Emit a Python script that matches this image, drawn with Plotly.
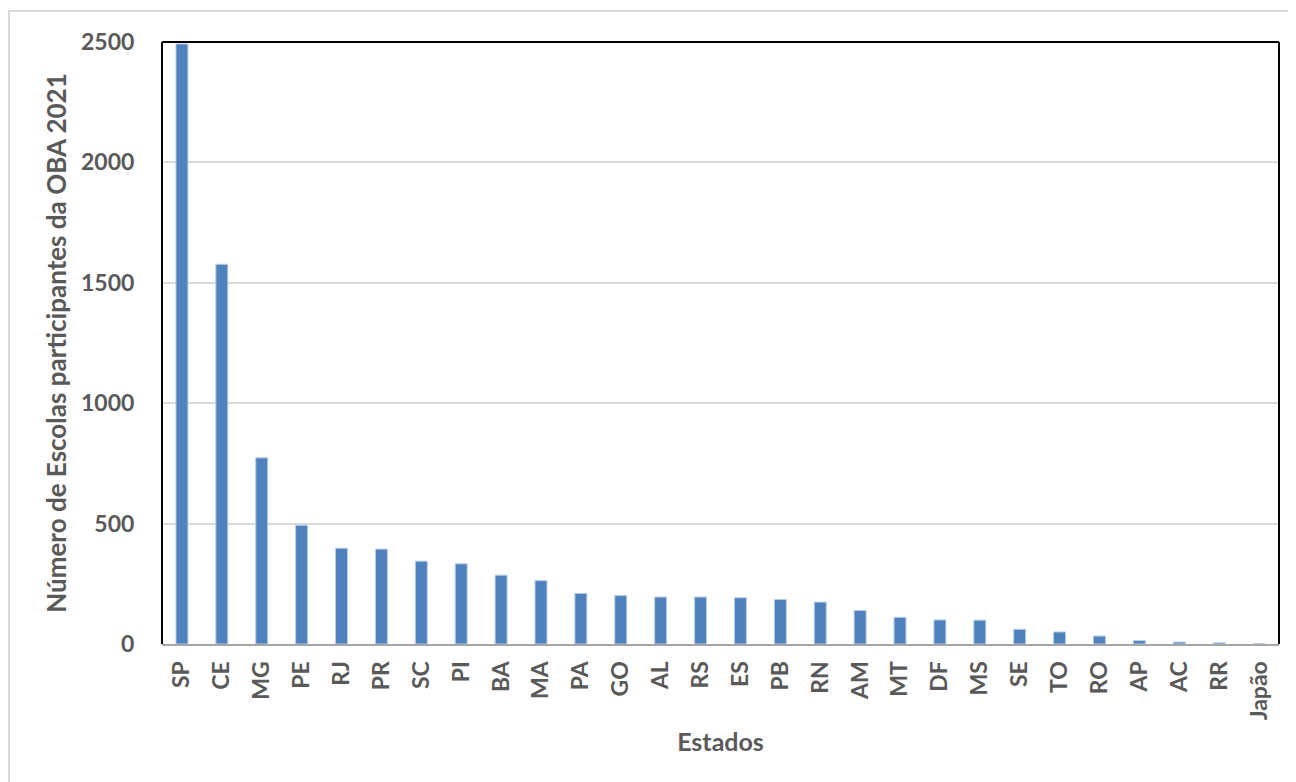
import plotly.graph_objects as go

estados = ["SP", "CE", "MG", "PE", "RJ", "PR", "SC", "PI", "BA", "MA", "PA", "GO", "AL", "RS",
           "ES", "PB", "RN", "AM", "MT", "DF", "MS", "SE", "TO", "RO", "AP", "AC", "RR", "Japão"]
escolas = [2492, 1577, 773, 493, 398, 394, 344, 333, 286, 263, 210, 201, 195, 195,
           192, 185, 174, 139, 111, 100, 99, 61, 50, 33, 14, 8, 5, 1]
y_ticks = [0, 500, 1000, 1500, 2000, 2500]

font_fam = "Lato, Open Sans, sans-serif"
grey = "#595959"

fig = go.Figure()
fig.add_trace(go.Bar(
    x=estados, y=escolas,
    marker=dict(color="#4F81BD", line=dict(color="#B9CDE5", width=1)),
    width=0.3,
))

# page has an 8px body margin; compute in page pixels then shift
OFF = 8
W, H = 1288, 774
L, T = 162 - OFF, 42 - OFF
R = W - (1279 - OFF)
B = H - (644 - OFF)
pw, ph = W - L - R, H - T - B

def px_x(x):
    return (x - OFF - L) / pw

def px_y(y):
    return (H - B - (y - OFF)) / ph

fig.update_layout(
    width=W, height=H,
    margin=dict(l=L, r=R, t=T, b=B, autoexpand=False),
    paper_bgcolor="white", plot_bgcolor="white",
    showlegend=False,
    font=dict(family=font_fam, color=grey),
    xaxis=dict(
        tickangle=-90,
        tickfont=dict(size=23, color=grey, family=font_fam, weight="bold"),
        showline=True, linecolor="#A6A6A6", linewidth=2,
        ticks="outside", ticklen=6, tickcolor="rgba(0,0,0,0)", showgrid=False,
        automargin=False,
        title=dict(text="<b>Estados</b>", font=dict(size=25, color=grey), standoff=14),
    ),
    yaxis=dict(
        range=[0, 2500],
        tickvals=y_ticks,
        ticktext=[str(v) for v in y_ticks],
        tickfont=dict(size=23, color=grey, family=font_fam, weight="bold"),
        showgrid=True, gridcolor="#D9D9D9", gridwidth=2,
        zeroline=False, ticks="outside", ticklen=22, tickcolor="rgba(0,0,0,0)",
        automargin=False,
        title=dict(text="<b>Número de Escolas participantes da OBA 2021</b>",
                   font=dict(size=26, color=grey), standoff=6),
    ),
    bargap=0.7,
)

# plot-area frame (left, top, right) in black
fig.add_shape(type="line", xref="paper", yref="paper", x0=0, x1=0, y0=0, y1=1,
              line=dict(color="black", width=2))
fig.add_shape(type="line", xref="paper", yref="paper", x0=0, x1=1, y0=1, y1=1,
              line=dict(color="black", width=2))
fig.add_shape(type="line", xref="paper", yref="paper", x0=1, x1=1, y0=0, y1=1,
              line=dict(color="black", width=2))
# outer chart border (light grey)
fig.add_shape(type="rect", xref="paper", yref="paper",
              x0=px_x(9), x1=px_x(1320), y0=px_y(820), y1=px_y(11),
              line=dict(color="#D9D9D9", width=2))

fig.write_html("out.html")
